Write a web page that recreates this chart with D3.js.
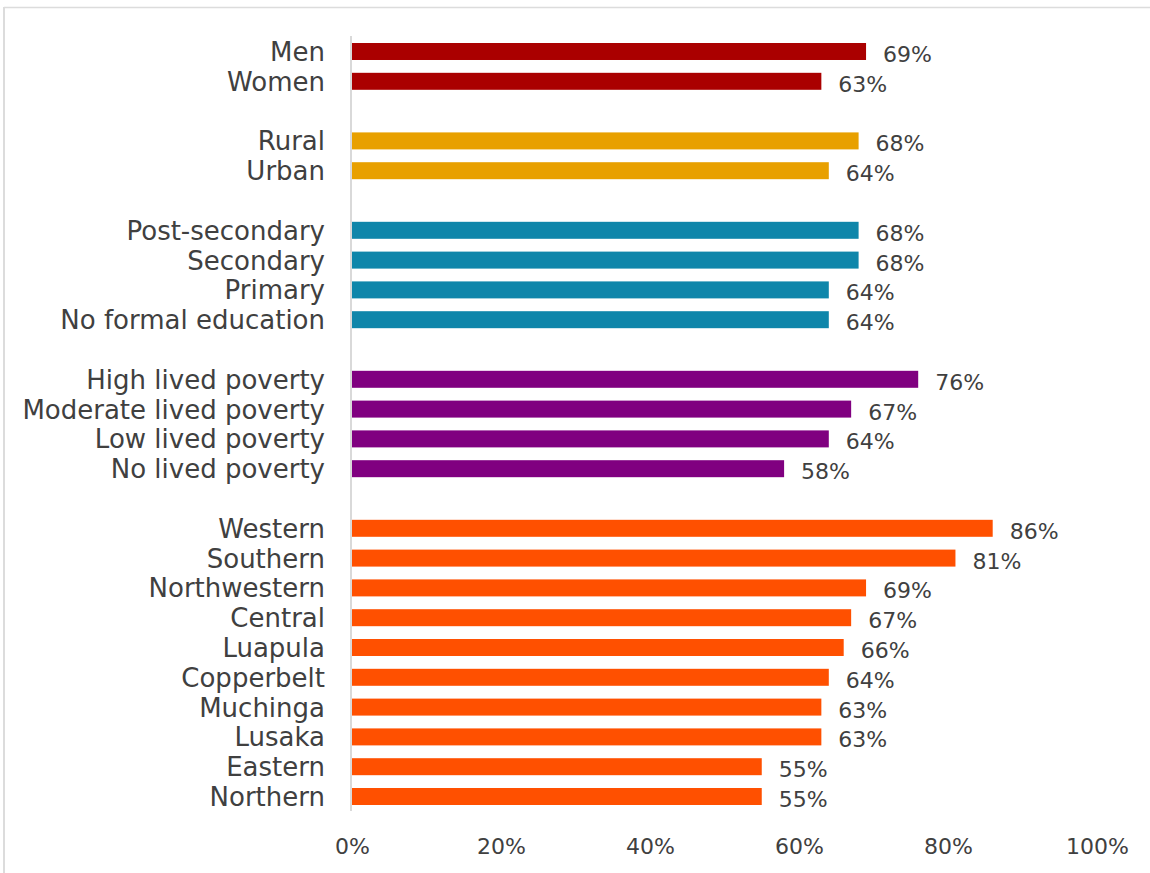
<!DOCTYPE html>
<html>
<head>
<meta charset="utf-8">
<script src="https://cdn.jsdelivr.net/npm/d3@7/dist/d3.min.js"></script>
<style>
  html, body { margin: 0; padding: 0; background: #fff; }
  svg { display: block; }
  text { font-family: "DejaVu Sans", sans-serif; fill: #404040; }
</style>
</head>
<body>
<svg id="chart" width="1150" height="873"></svg>
<script>
// Share of respondents, by group (percent)
const genderLabels = ["Men", "Women"];
const genderValues = [69, 63];

const locationLabels = ["Rural", "Urban"];
const locationValues = [68, 64];

const educationLabels = ["Post-secondary", "Secondary", "Primary", "No formal education"];
const educationValues = [68, 68, 64, 64];

const povertyLabels = ["High lived poverty", "Moderate lived poverty", "Low lived poverty", "No lived poverty"];
const povertyValues = [76, 67, 64, 58];

const provinceLabels = ["Western", "Southern", "Northwestern", "Central", "Luapula",
  "Copperbelt", "Muchinga", "Lusaka", "Eastern", "Northern"];
const provinceValues = [86, 81, 69, 67, 66, 64, 63, 63, 55, 55];

const xTicks = [0, 20, 40, 60, 80, 100];

const groups = [
  { labels: genderLabels, values: genderValues, color: "#aa0000" },
  { labels: locationLabels, values: locationValues, color: "#e8a000" },
  { labels: educationLabels, values: educationValues, color: "#0f86aa" },
  { labels: povertyLabels, values: povertyValues, color: "#800080" },
  { labels: provinceLabels, values: provinceValues, color: "#ff5000" }
];

// Flatten into rows, with one empty slot between groups
const rows = [];
groups.forEach((g, gi) => {
  if (gi > 0) rows.push({ key: "gap" + gi, label: null });
  g.labels.forEach((l, i) => rows.push({ key: l, label: l, value: g.values[i], color: g.color }));
});

const svg = d3.select("#chart");

// Frame
svg.append("line").attr("x1", 4).attr("x2", 1150).attr("y1", 7.5).attr("y2", 7.5)
  .attr("stroke", "#dcdcdc").attr("stroke-width", 1.5);
svg.append("line").attr("x1", 4).attr("x2", 4).attr("y1", 7).attr("y2", 873)
  .attr("stroke", "#dcdcdc").attr("stroke-width", 2);

const x = d3.scaleLinear().domain([0, 100]).range([352, 1097]);
const y = d3.scaleBand().domain(rows.map(r => r.key)).range([36.6, 811.4]).paddingInner(0.43).paddingOuter(0.215);

const data = rows.filter(r => r.label !== null);

// Bars
svg.append("g").selectAll("rect").data(data).join("rect")
  .attr("x", x(0))
  .attr("y", d => y(d.key))
  .attr("width", d => x(d.value) - x(0))
  .attr("height", y.bandwidth())
  .attr("fill", d => d.color);

// Vertical axis line
svg.append("line").attr("x1", 351).attr("x2", 351).attr("y1", 36).attr("y2", 811)
  .attr("stroke", "#d9d9d9").attr("stroke-width", 2);

// Category labels
svg.append("g").selectAll("text").data(data).join("text")
  .attr("x", 325)
  .attr("y", d => y(d.key) + y.bandwidth() / 2 + 9.5)
  .attr("text-anchor", "end")
  .style("font-size", "26px")
  .text(d => d.label);

// Value labels
svg.append("g").selectAll("text").data(data).join("text")
  .attr("x", d => x(d.value) + 17)
  .attr("y", d => y(d.key) + y.bandwidth() / 2 + 10.5)
  .style("font-size", "22px")
  .text(d => d.value + "%");

// X axis tick labels
const xAxis = d3.axisBottom(x).tickValues(xTicks).tickFormat(d => d + "%").tickSize(0).tickPadding(0);
const ax = svg.append("g").attr("transform", "translate(0,838)").call(xAxis);
ax.select(".domain").remove();
ax.selectAll("text").style("font-size", "22px").style("font-family", "DejaVu Sans, sans-serif")
  .attr("fill", "#404040").attr("dy", "0.71em");
</script>
</body>
</html>
